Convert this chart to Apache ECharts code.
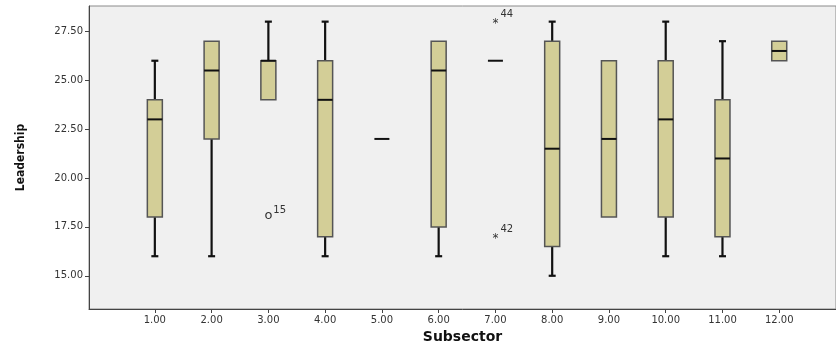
<!DOCTYPE html>
<html>
<head>
<meta charset="utf-8">
<script src="https://cdn.jsdelivr.net/npm/echarts@6/dist/echarts.min.js"></script>
<style>
  html, body { margin: 0; padding: 0; background: #fff; }
  #box-chart { width: 836px; height: 349px; }
</style>
</head>
<body>
<div id="box-chart"></div>
<script>
// Subsector groups and their box statistics (Leadership)
const subsectors = [1, 2, 3, 4, 5, 6, 7, 8, 9, 10, 11, 12];
const lowWhisker = [16, 16, 24, 16, 22, 16, 26, 15, 18, 16, 16, 26];
const q1 = [18, 22, 24, 17, 22, 17.5, 26, 16.5, 18, 18, 17, 26];
const median = [23, 25.5, 26, 24, 22, 25.5, 26, 21.5, 22, 23, 21, 26.5];
const q3 = [24, 27, 26, 26, 22, 27, 26, 27, 26, 26, 24, 27];
const highWhisker = [26, 27, 28, 28, 22, 27, 26, 28, 26, 28, 27, 27];

// outliers: o = outlier, * = extreme
const outlierX = [3, 7, 7];
const outlierY = [18, 28, 17];
const outlierMark = ["o", "*", "*"];
const outlierCase = ["15", "44", "42"];

const yTicks = [15, 17.5, 20, 22.5, 25, 27.5];

const boxData = subsectors.map((s, i) => [s, lowWhisker[i], q1[i], median[i], q3[i], highWhisker[i]]);
const outlierData = outlierX.map((x, i) => [x, outlierY[i], outlierMark[i], outlierCase[i]]);

const chart = echarts.init(document.getElementById("box-chart"));

function renderBox(params, api) {
  const x = api.value(0);
  const lo = api.coord([x, api.value(1)]);
  const b1 = api.coord([x, api.value(2)]);
  const md = api.coord([x, api.value(3)]);
  const b3 = api.coord([x, api.value(4)]);
  const hi = api.coord([x, api.value(5)]);
  const half = 7.5;
  const cap = 3.5;
  const cx = md[0];
  const children = [];
  const whisker = { stroke: "#111", lineWidth: 2.2 };
  if (hi[1] < b3[1] - 0.5) {
    children.push({ type: "line", shape: { x1: cx, y1: b3[1], x2: cx, y2: hi[1] }, style: whisker });
    children.push({ type: "line", shape: { x1: cx - cap, y1: hi[1], x2: cx + cap, y2: hi[1] }, style: whisker });
  }
  if (lo[1] > b1[1] + 0.5) {
    children.push({ type: "line", shape: { x1: cx, y1: b1[1], x2: cx, y2: lo[1] }, style: whisker });
    children.push({ type: "line", shape: { x1: cx - cap, y1: lo[1], x2: cx + cap, y2: lo[1] }, style: whisker });
  }
  if (b1[1] - b3[1] > 0.5) {
    children.push({
      type: "rect",
      shape: { x: cx - half, y: b3[1], width: half * 2, height: b1[1] - b3[1] },
      style: { fill: "#d3ce97", stroke: "#555", lineWidth: 1.5 },
    });
  }
  children.push({
    type: "line",
    shape: { x1: cx - half, y1: md[1], x2: cx + half, y2: md[1] },
    style: { stroke: "#111", lineWidth: 2 },
  });
  return { type: "group", children: children };
}

function renderOutlier(params, api) {
  const p = api.coord([api.value(0), api.value(1)]);
  const mark = api.value(2);
  return {
    type: "group",
    children: [
      {
        type: "text",
        x: p[0],
        y: mark === "o" ? p[1] - 1 : p[1] + 2,
        style: {
          text: mark,
          fill: "#333",
          font: mark === "o" ? "13px 'DejaVu Sans'" : "12px 'DejaVu Sans'",
          align: "center",
          verticalAlign: "middle",
        },
      },
      {
        type: "text",
        x: p[0] + 5,
        y: p[1] - 7,
        style: {
          text: api.value(3),
          fill: "#333",
          font: "10px 'DejaVu Sans'",
          align: "left",
          verticalAlign: "middle",
        },
      },
    ],
  };
}

const option = {
  animation: false,
  grid: {
    show: true,
    left: 89,
    right: -1,
    top: 6,
    bottom: 36,
    backgroundColor: "#f0f0f0",
    borderColor: "#8a8a8a",
    borderWidth: 1,
  },
  xAxis: {
    type: "value",
    min: -0.16,
    max: 13,
    name: "Subsector",
    nameLocation: "middle",
    nameGap: 21,
    nameTextStyle: { fontFamily: "DejaVu Sans", fontWeight: "bold", fontSize: 14, color: "#111" },
    axisLine: { show: true, onZero: false, lineStyle: { color: "#444", width: 1 } },
    axisTick: { show: true, length: 4, customValues: subsectors, lineStyle: { color: "#444" } },
    axisLabel: {
      customValues: subsectors,
      formatter: (v) => v.toFixed(2),
      fontFamily: "DejaVu Sans",
      fontSize: 10,
      color: "#333",
      margin: 6,
    },
    splitLine: { show: false },
  },
  yAxis: {
    type: "value",
    min: 13.3,
    max: 28.8,
    name: "Leadership",
    nameLocation: "middle",
    nameRotate: 90,
    nameGap: 62,
    nameTextStyle: {
      fontFamily: "'DejaVu Sans Condensed', 'Liberation Sans', sans-serif",
      fontWeight: "bold",
      fontSize: 12,
      color: "#111",
    },
    axisLine: { show: true, onZero: false, lineStyle: { color: "#444", width: 1 } },
    axisTick: { show: true, length: 4, customValues: yTicks, lineStyle: { color: "#444" } },
    axisLabel: {
      customValues: yTicks,
      formatter: (v) => v.toFixed(2),
      fontFamily: "DejaVu Sans",
      fontSize: 10,
      color: "#333",
      margin: 6,
    },
    splitLine: { show: false },
  },
  series: [
    {
      name: "Leadership",
      type: "custom",
      renderItem: renderBox,
      encode: { x: 0, y: [1, 2, 3, 4, 5] },
      data: boxData,
      z: 3,
    },
    {
      name: "Outliers",
      type: "custom",
      renderItem: renderOutlier,
      encode: { x: 0, y: 1 },
      data: outlierData,
      z: 4,
    },
  ],
};

chart.setOption(option);
</script>
</body>
</html>
